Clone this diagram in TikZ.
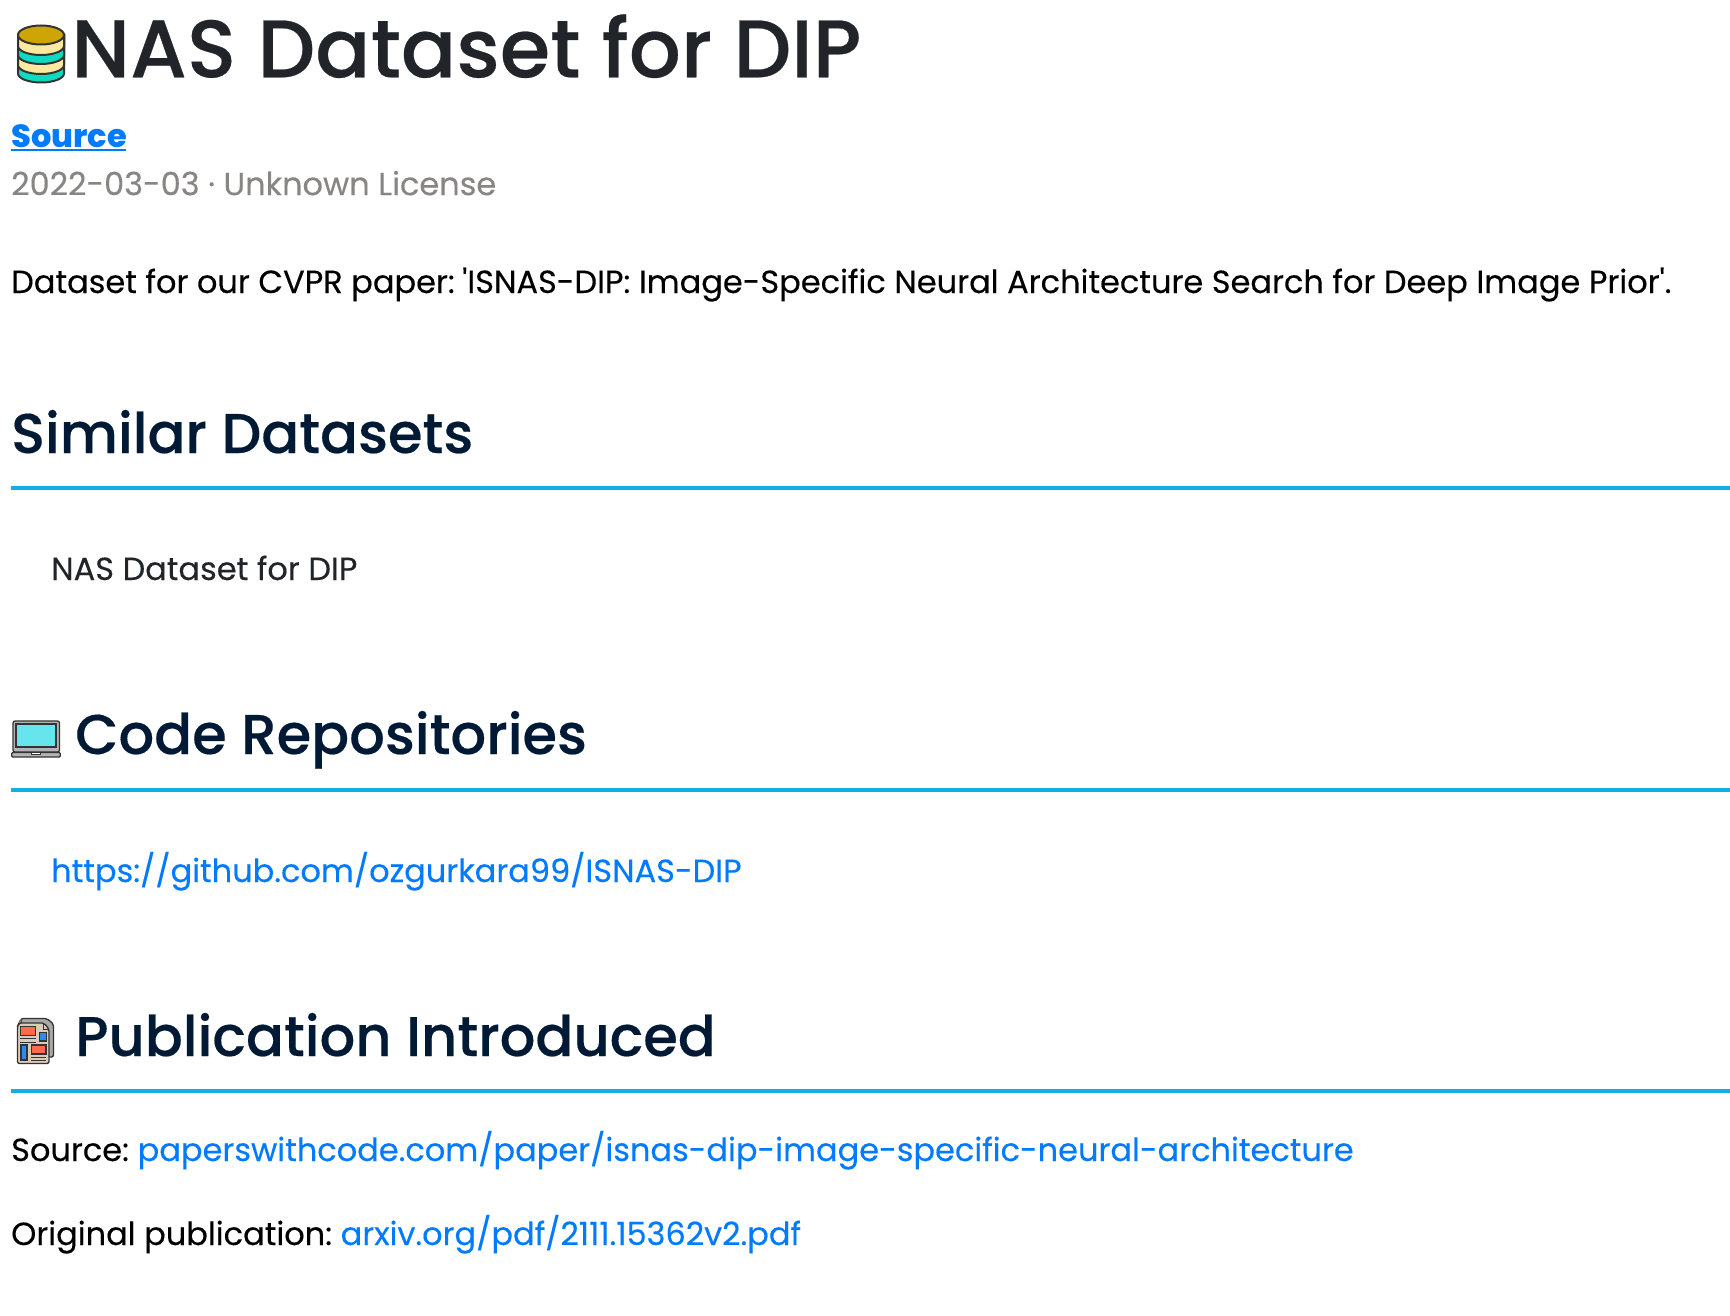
\documentclass[tikz,border=0pt]{standalone}
\usepackage{fontspec}
\setmainfont[Ligatures=TeXOff,FakeBold=0.25]{Poppins}
\newfontfamily\medfont[FakeBold=0.3]{Poppins Medium}
\newfontfamily\boldfont{Poppins ExtraBold}
\definecolor{titlecol}{HTML}{212529}
\definecolor{headcol}{HTML}{001A36}
\definecolor{rulecol}{HTML}{10AFE8}
\definecolor{linkcol}{HTML}{007BFF}
\definecolor{datecol}{HTML}{8A8585}
\definecolor{dbgold}{HTML}{CDA505}
\definecolor{dbcream}{HTML}{FFE9A1}
\definecolor{dbteal}{HTML}{0FD9C0}
\definecolor{lapgray}{HTML}{B4B4B4}
\definecolor{lapscreen}{HTML}{66E6EC}
\definecolor{lapdark}{HTML}{333333}
\definecolor{doctan}{HTML}{DACCB9}
\definecolor{docgray}{HTML}{A9A9A9}
\definecolor{docred}{HTML}{FF6B4A}
\definecolor{docblue}{HTML}{2E8BF0}
\tikzset{
  txt/.style={anchor=base west,inner sep=0pt,text=titlecol,font=\fontsize{32}{40}\selectfont},
  heading/.style={anchor=base west,inner sep=0pt,text=headcol,font=\medfont\fontsize{56}{66}\selectfont},
  linktxt/.style={txt,text=linkcol},
  headrule/.style={rulecol,line width=4pt},
  iconline/.style={lapdark,line width=1.3pt}
}
\begin{document}
\begin{tikzpicture}[x=1pt,y=-1pt]
\useasboundingbox (0,0) rectangle (1730,1316);
% database
\foreach \lowy/\bandcol in {82.5/dbteal,74/dbcream,64/dbteal,55/dbcream}{
  \draw[iconline,line width=2pt,fill=\bandcol] (18,35) -- (18,\lowy-9) arc[start angle=180,end angle=0,x radius=23,y radius=9] -- (64,35) -- cycle;
}
\draw[iconline,line width=2pt,fill=dbgold] (41,35) ellipse [x radius=23,y radius=9.5];
\node[txt,text=titlecol,font=\medfont\fontsize{81.6}{96}\selectfont] (title) at (71,77.3) {NAS Dataset for DIP};
\node[txt,text=linkcol,font=\boldfont\fontsize{32}{40}\selectfont] (source) at (11,148) {Source};
\draw[linkcol,line width=2pt] (11,150.5) -- (126,150.5);
\node[txt,text=datecol] (date) at (11,195.2) {2022-03-03 · Unknown License};
\node[txt,text=black] (intro) at (11,293) {Dataset for our CVPR paper:\kern-1pt\ 'ISNAS-DIP: Image-Specific Neural Architecture Search for Deep Image Prior'.};
\node[heading] (similar) at (11,453) {Similar Datasets};
\draw[headrule] (11,487.7) -- (1730,487.7);
\node[txt] (simitem) at (51,580) {NAS Dataset for DIP};
% laptop
\draw[iconline,fill=lapgray,rounded corners=2pt] (13,721) rectangle (59.5,752);
\draw[iconline,fill=lapscreen] (16,724) rectangle (56,747);
\draw[iconline,fill=lapgray,rounded corners=1pt] (11.8,752.5) rectangle (60.2,757);
\draw[iconline,line width=0.8pt,fill=white] (31,752) rectangle (40.5,754.5);
\node[heading] (code) at (75,754) {Code Repositories};
\draw[headrule] (11,790) -- (1730,790);
\node[linktxt] (repo) at (51,882) {https://github.com/ozgurkara99/ISNAS-DIP};
% document
\draw[iconline,fill=docgray,rounded corners=2pt] (21,1024) -- (21,1018.5) -- (47,1018.5) -- (53.5,1024) -- (53.5,1057) -- (48,1057) -- cycle;
\draw[iconline,fill=doctan,rounded corners=2pt] (17.5,1026) -- (19,1023) -- (44,1023) -- (49,1029) -- (49,1063.5) -- (17.5,1063.5) -- cycle;
\draw[iconline,line width=1pt] (43.5,1023.5) -- (43.5,1029) -- (49,1029);
\draw[iconline,fill=docred] (20.5,1026.5) rectangle (35.5,1035.5);
\draw[iconline,fill=docblue] (39.5,1032.5) rectangle (46.5,1041);
\draw[iconline,fill=docblue] (21,1045) rectangle (27,1060);
\draw[iconline,fill=docred] (31.5,1045) rectangle (46,1054);
\foreach \liney in {1038.5,1042}{\draw[iconline,line width=0.9pt] (20,\liney) -- (36,\liney);}
\foreach \liney in {1057,1060.5}{\draw[iconline,line width=0.9pt] (31,\liney) -- (46,\liney);}
\node[heading] (pub) at (75,1056) {Publication Introduced};
\draw[headrule] (11,1091.4) -- (1730,1091.4);
\node[txt,text=black] (srclabel) at (11,1161) {Source:};
\node[linktxt] (srclink) at (137.5,1161) {paperswithcode.com/paper/isnas-dip-image-specific-neural-architecture};
\node[txt,text=black] (origlabel) at (11,1245) {Original publication:};
\node[linktxt] (origlink) at (340.5,1245) {arxiv.org/pdf/2111.15362v2.pdf};
\end{tikzpicture}
\end{document}
